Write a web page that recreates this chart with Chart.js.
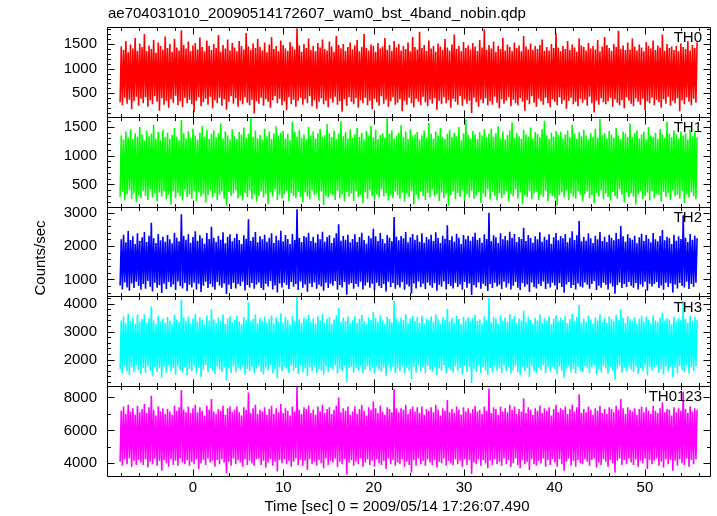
<!DOCTYPE html>
<html>
<head>
<meta charset="utf-8">
<title>ae704031010 wam0 bst 4band</title>
<script src="https://cdn.jsdelivr.net/npm/chart.js@4.4.1/dist/chart.umd.min.js"></script>
<style>
  html, body { margin: 0; padding: 0; background: #fff; }
  #myChart { display: block; }
</style>
</head>
<body>
<canvas id="myChart" width="717" height="516"></canvas>
<script>
/* light curve data, 500 bins from -8.05 s */
const binStart = -8.05;
const binWidth = 0.1279;
const panelNames = ['TH0', 'TH1', 'TH2', 'TH3', 'TH0123'];
const xTickLabels = [0, 10, 20, 30, 40, 50];

const th0 = [
  320, 1450, 260, 1380, 410, 1560, 290, 1330, 370, 1490, 180, 1410, 340, 1620, 430, 1360, 250, 1510, 390, 1440,
  300, 1700, 420, 1350, 230, 1470, 360, 1400, 280, 1580, 440, 1320, 330, 1530, 150, 1460, 400, 1390, 270, 1650,
  350, 1420, 210, 1500, 380, 1340, 310, 1600, 450, 1430, 260, 1370, 340, 1780, 220, 1480, 410, 1410, 300, 1550,
  370, 1360, 280, 1470, 120, 1520, 350, 1390, 420, 1630, 240, 1440, 320, 1350, 390, 1570, 270, 1460, 430, 1380,
  200, 1500, 360, 1420, 300, 1680, 410, 1340, 250, 1480, 380, 1410, 170, 1590, 330, 1370, 440, 1520, 290, 1430,
  400, 1350, 230, 1560, 350, 1460, 280, 1390, 420, 1720, 310, 1450, 260, 1380, 370, 1510, 90, 1420, 340, 1600,
  290, 1440, 410, 1370, 250, 1530, 380, 1330, 330, 1490, 210, 1640, 360, 1400, 440, 1460, 300, 1350, 390, 1570,
  260, 1480, 340, 1410, 160, 1360, 420, 1540, 280, 1450, 370, 1390, 230, 1820, 350, 1470, 410, 1340, 270, 1500,
  380, 1420, 300, 1610, 440, 1380, 240, 1460, 360, 1350, 190, 1520, 330, 1430, 400, 1590, 280, 1400, 350, 1370,
  220, 1550, 390, 1450, 310, 1340, 430, 1660, 270, 1480, 340, 1410, 130, 1500, 380, 1360, 250, 1440, 420, 1530,
  330, 1390, 280, 1470, 400, 1580, 210, 1350, 360, 1440, 300, 1700, 410, 1420, 260, 1370, 350, 1490, 180, 1460,
  390, 1340, 320, 1520, 250, 1410, 440, 1450, 290, 1620, 370, 1380, 230, 1480, 340, 1360, 420, 1560, 270, 1430,
  310, 1500, 380, 1370, 140, 1460, 350, 1400, 270, 1530, 410, 1350, 300, 1640, 220, 1440, 390, 1390, 330, 1750,
  260, 1420, 430, 1480, 320, 1360, 240, 1570, 370, 1410, 290, 1460, 400, 1340, 170, 1510, 350, 1450, 280, 1380,
  420, 1600, 300, 1430, 360, 1370, 210, 1490, 390, 1690, 330, 1400, 270, 1460, 440, 1350, 250, 1540, 380, 1420,
  290, 1470, 350, 1390, 100, 1520, 410, 1450, 320, 1360, 230, 1580, 370, 1430, 300, 1800, 400, 1380, 260, 1480,
  340, 1410, 270, 1550, 430, 1340, 310, 1460, 200, 1400, 380, 1620, 290, 1370, 350, 1490, 420, 1440, 240, 1360,
  370, 1530, 300, 1420, 260, 1470, 400, 1350, 330, 1660, 150, 1450, 360, 1390, 280, 1510, 440, 1380, 310, 1460,
  230, 1400, 390, 1480, 340, 1590, 270, 1360, 410, 1440, 300, 1370, 220, 1500, 380, 1420, 330, 1710, 260, 1430,
  420, 1350, 290, 1460, 360, 1400, 190, 1560, 350, 1380, 410, 1490, 280, 1430, 330, 1340, 240, 1610, 390, 1470,
  310, 1440, 370, 1370, 250, 1520, 430, 1410, 300, 1460, 110, 1390, 350, 1580, 270, 1350, 400, 1450, 320, 1640,
  280, 1480, 340, 1420, 410, 1360, 230, 1500, 380, 1440, 310, 1770, 260, 1400, 360, 1470, 200, 1380, 420, 1530,
  350, 1390, 290, 1610, 240, 1450, 400, 1370, 330, 1490, 270, 1430, 390, 1350, 160, 1540, 340, 1460, 300, 1410,
  410, 1570, 260, 1380, 370, 1470, 320, 1430, 210, 1690, 380, 1360, 290, 1500, 430, 1420, 250, 1450, 350, 1380,
  300, 1460, 400, 1350, 140, 1510, 360, 1440, 280, 1400, 420, 1560, 330, 1370, 260, 1480, 390, 1420, 310, 1530
];
const th1 = [
  280, 1350, 370, 1280, 220, 1420, 330, 1310, 400, 1460, 250, 1290, 350, 1390, 190, 1330, 310, 1500, 260, 1370,
  390, 1260, 300, 1440, 230, 1340, 410, 1380, 270, 1540, 340, 1300, 200, 1410, 360, 1270, 290, 1450, 380, 1320,
  240, 1400, 320, 1290, 150, 1360, 380, 1480, 260, 1330, 350, 1270, 300, 1620, 220, 1390, 410, 1300, 280, 1430,
  330, 1310, 250, 1470, 390, 1350, 210, 1280, 360, 1400, 290, 1520, 340, 1330, 180, 1450, 310, 1290, 400, 1380,
  270, 1440, 350, 1320, 230, 1390, 320, 1560, 380, 1300, 250, 1420, 130, 1350, 370, 1280, 300, 1460, 340, 1340,
  400, 1290, 260, 1410, 310, 1370, 220, 1490, 350, 1310, 280, 1380, 390, 1650, 240, 1330, 330, 1440, 200, 1300,
  300, 1360, 380, 1280, 270, 1470, 340, 1340, 160, 1420, 360, 1290, 290, 1390, 410, 1510, 230, 1350, 320, 1400,
  250, 1430, 330, 1300, 390, 1380, 210, 1270, 350, 1590, 300, 1410, 260, 1330, 370, 1450, 280, 1310, 190, 1370,
  360, 1280, 290, 1500, 240, 1350, 400, 1420, 310, 1300, 340, 1390, 220, 1470, 380, 1330, 140, 1360, 300, 1550,
  270, 1390, 350, 1320, 310, 1440, 230, 1290, 390, 1380, 260, 1600, 330, 1340, 200, 1410, 370, 1300, 290, 1460,
  340, 1310, 210, 1370, 380, 1480, 280, 1330, 320, 1400, 170, 1280, 360, 1430, 250, 1350, 400, 1520, 300, 1320,
  230, 1450, 330, 1290, 270, 1360, 410, 1390, 290, 1310, 350, 1670, 220, 1380, 310, 1440, 260, 1300, 380, 1350,
  310, 1400, 250, 1530, 360, 1320, 200, 1420, 340, 1290, 280, 1460, 390, 1340, 150, 1370, 320, 1410, 240, 1280,
  380, 1350, 300, 1440, 230, 1310, 350, 1570, 270, 1380, 410, 1300, 290, 1420, 330, 1350, 210, 1480, 360, 1330,
  260, 1290, 340, 1380, 120, 1450, 310, 1320, 380, 1400, 240, 1340, 350, 1500, 280, 1270, 400, 1390, 220, 1630,
  330, 1360, 270, 1300, 390, 1430, 250, 1370, 310, 1290, 360, 1410, 180, 1350, 340, 1460, 280, 1320, 410, 1380,
  240, 1470, 370, 1330, 300, 1390, 220, 1510, 350, 1300, 260, 1420, 320, 1280, 390, 1360, 200, 1440, 330, 1580,
  290, 1310, 410, 1400, 250, 1340, 360, 1290, 160, 1450, 310, 1370, 280, 1330, 380, 1490, 240, 1300, 340, 1410,
  370, 1380, 230, 1320, 320, 1460, 280, 1610, 390, 1350, 210, 1290, 350, 1400, 300, 1330, 260, 1430, 140, 1360,
  310, 1420, 360, 1300, 270, 1370, 400, 1440, 230, 1320, 340, 1540, 290, 1380, 250, 1290, 380, 1410, 320, 1340,
  200, 1450, 330, 1350, 380, 1280, 260, 1400, 310, 1330, 170, 1470, 350, 1310, 290, 1640, 400, 1360, 240, 1390,
  340, 1300, 280, 1430, 220, 1360, 370, 1310, 300, 1480, 250, 1350, 410, 1290, 320, 1420, 190, 1380, 360, 1330,
  270, 1560, 350, 1320, 290, 1390, 150, 1440, 330, 1300, 390, 1370, 240, 1410, 300, 1280, 360, 1500, 220, 1350,
  380, 1330, 260, 1400, 340, 1290, 310, 1460, 200, 1360, 370, 1310, 280, 1590, 350, 1380, 230, 1320, 400, 1440,
  290, 1370, 320, 1300, 250, 1420, 390, 1350, 180, 1390, 330, 1280, 270, 1450, 360, 1340, 300, 1410, 240, 1320
];
const th2 = [
  820, 2200, 700, 2340, 910, 2110, 760, 2450, 660, 2180, 880, 2290, 740, 2060, 930, 2380, 800, 2150, 690, 2260,
  860, 2420, 720, 2120, 950, 2310, 780, 2700, 640, 2230, 900, 2090, 750, 2360, 830, 2170, 590, 2280, 870, 2130,
  710, 2330, 920, 2200, 770, 2080, 850, 2400, 680, 2250, 940, 2140, 800, 2950, 730, 2300, 890, 2190, 650, 2350,
  840, 2100, 760, 2270, 900, 2440, 700, 2160, 870, 2320, 620, 2230, 810, 2070, 930, 2390, 740, 2210, 860, 2580,
  780, 2250, 690, 2120, 920, 2300, 820, 2190, 750, 2410, 880, 2080, 560, 2280, 840, 2350, 710, 2140, 900, 2240,
  730, 2370, 860, 2180, 800, 2060, 940, 2320, 670, 2220, 830, 2800, 760, 2150, 890, 2270, 720, 2420, 850, 2110,
  910, 2290, 740, 2200, 680, 2340, 870, 2130, 790, 2250, 950, 2380, 700, 2090, 820, 2310, 610, 2170, 880, 2460,
  760, 2140, 900, 2330, 830, 2210, 710, 2060, 920, 2360, 780, 2180, 860, 3100, 690, 2240, 940, 2120, 750, 2300,
  850, 2260, 630, 2400, 880, 2150, 770, 2280, 910, 2100, 720, 2350, 840, 2200, 790, 2430, 660, 2130, 900, 2270,
  740, 2320, 870, 2090, 810, 2240, 950, 2380, 690, 2650, 830, 2160, 760, 2300, 920, 2190, 540, 2340, 850, 2110,
  890, 2210, 720, 2350, 860, 2120, 780, 2270, 930, 2400, 700, 2180, 820, 2070, 910, 2310, 750, 2230, 870, 2520,
  680, 2290, 900, 2150, 800, 2390, 740, 2210, 860, 2080, 640, 2330, 930, 2250, 770, 2140, 890, 2870, 720, 2280,
  830, 2170, 760, 2300, 920, 2230, 690, 2420, 850, 2110, 790, 2260, 580, 2360, 880, 2190, 730, 2320, 940, 2130,
  770, 2380, 870, 2100, 710, 2270, 910, 2200, 820, 2340, 750, 2150, 890, 2410, 660, 2240, 840, 2090, 780, 2310,
  940, 2220, 700, 2620, 860, 2180, 800, 2290, 730, 2130, 900, 2370, 770, 2250, 850, 2060, 690, 2330, 920, 2200,
  750, 2310, 880, 2160, 530, 2280, 830, 2400, 760, 2190, 910, 2240, 720, 2100, 870, 2350, 800, 2210, 650, 3000,
  860, 2140, 740, 2320, 900, 2260, 790, 2090, 840, 2380, 710, 2200, 930, 2300, 760, 2170, 880, 2430, 700, 2250,
  810, 2360, 920, 2120, 750, 2270, 680, 2210, 890, 2550, 780, 2150, 850, 2330, 620, 2240, 910, 2100, 770, 2290,
  730, 2200, 860, 2410, 800, 2130, 940, 2280, 710, 2190, 870, 2350, 760, 2070, 900, 2260, 820, 2390, 690, 2170,
  890, 2300, 770, 2230, 600, 2360, 850, 2110, 920, 2250, 740, 2440, 830, 2180, 700, 2320, 880, 2750, 790, 2140,
  760, 2270, 910, 2160, 840, 2380, 720, 2230, 860, 2090, 950, 2310, 680, 2200, 810, 2420, 750, 2150, 900, 2280,
  840, 2120, 700, 2340, 880, 2250, 790, 2170, 570, 2400, 830, 2210, 910, 2600, 740, 2290, 860, 2130, 770, 2350,
  920, 2240, 810, 2190, 750, 2310, 890, 2080, 700, 2260, 850, 2370, 780, 2150, 930, 2330, 660, 2220, 870, 2110,
  790, 2390, 860, 2200, 920, 2140, 740, 2300, 820, 2480, 690, 2170, 900, 2280, 770, 2230, 880, 2060, 610, 2340,
  850, 2160, 730, 2290, 890, 2210, 800, 2920, 760, 2250, 930, 2120, 710, 2360, 860, 2190, 780, 2310, 900, 2230
];
const th3 = [
  1650, 3400, 1500, 3550, 1780, 3300, 1580, 3650, 1450, 3380, 1720, 3500, 1550, 3270, 1800, 3600, 1620, 3350, 1480, 3450,
  1700, 3620, 1530, 3320, 1760, 3480, 1600, 3900, 1420, 3400, 1740, 3280, 1560, 3560, 1680, 3360, 1350, 3470, 1750, 3310,
  1510, 3520, 1790, 3390, 1590, 3260, 1690, 3600, 1470, 3430, 1770, 3340, 1620, 4150, 1540, 3490, 1730, 3370, 1440, 3540,
  1660, 3290, 1570, 3460, 1780, 3640, 1500, 3350, 1710, 3510, 1380, 3420, 1640, 3250, 1800, 3580, 1550, 3400, 1700, 3800,
  1600, 3440, 1480, 3310, 1760, 3500, 1650, 3380, 1560, 3610, 1720, 3270, 1250, 3470, 1680, 3550, 1520, 3330, 1750, 3430,
  1540, 3570, 1700, 3370, 1620, 3260, 1790, 3520, 1460, 3410, 1660, 4050, 1580, 3340, 1740, 3460, 1510, 3620, 1690, 3300,
  1770, 3480, 1560, 3390, 1470, 3540, 1710, 3320, 1610, 3450, 1800, 3580, 1500, 3280, 1650, 3510, 1330, 3360, 1730, 3660,
  1580, 3330, 1760, 3530, 1670, 3410, 1520, 3250, 1780, 3560, 1600, 3370, 1700, 4250, 1480, 3440, 1790, 3310, 1550, 3500,
  1690, 3460, 1400, 3600, 1730, 3340, 1590, 3470, 1770, 3290, 1530, 3550, 1660, 3400, 1610, 3630, 1450, 3320, 1750, 3470,
  1560, 3520, 1720, 3280, 1640, 3430, 1800, 3580, 1490, 3850, 1670, 3350, 1580, 3500, 1780, 3380, 1200, 3540, 1690, 3300,
  1740, 3410, 1530, 3550, 1700, 3310, 1600, 3460, 1790, 3600, 1500, 3370, 1650, 3260, 1760, 3510, 1570, 3420, 1720, 3700,
  1480, 3490, 1760, 3340, 1620, 3590, 1550, 3400, 1710, 3270, 1420, 3530, 1790, 3450, 1590, 3330, 1740, 4100, 1520, 3480,
  1670, 3360, 1580, 3500, 1780, 3420, 1490, 3620, 1700, 3300, 1610, 3460, 1300, 3560, 1730, 3380, 1540, 3520, 1800, 3320,
  1590, 3580, 1720, 3290, 1510, 3470, 1770, 3400, 1640, 3540, 1560, 3350, 1740, 3610, 1440, 3430, 1680, 3280, 1600, 3510,
  1800, 3420, 1500, 3820, 1720, 3370, 1620, 3490, 1530, 3320, 1760, 3570, 1590, 3450, 1700, 3260, 1470, 3530, 1780, 3400,
  1560, 3510, 1740, 3350, 1150, 3480, 1660, 3600, 1570, 3380, 1770, 3440, 1520, 3290, 1730, 3550, 1610, 3410, 1460, 4200,
  1700, 3330, 1540, 3520, 1760, 3460, 1600, 3280, 1680, 3580, 1510, 3390, 1790, 3500, 1570, 3360, 1740, 3630, 1490, 3450,
  1630, 3560, 1780, 3310, 1550, 3470, 1450, 3400, 1750, 3750, 1590, 3340, 1700, 3530, 1380, 3430, 1770, 3290, 1580, 3490,
  1520, 3400, 1720, 3610, 1620, 3320, 1800, 3480, 1500, 3380, 1730, 3550, 1570, 3260, 1760, 3460, 1650, 3590, 1470, 3360,
  1750, 3500, 1580, 3420, 1350, 3560, 1690, 3300, 1780, 3450, 1540, 3640, 1660, 3370, 1490, 3520, 1740, 3950, 1600, 3330,
  1560, 3470, 1770, 3350, 1680, 3580, 1510, 3430, 1720, 3280, 1800, 3510, 1460, 3400, 1640, 3620, 1550, 3340, 1760, 3480,
  1690, 3310, 1490, 3540, 1740, 3450, 1600, 3370, 1280, 3600, 1670, 3410, 1780, 3800, 1530, 3490, 1710, 3320, 1570, 3550,
  1780, 3440, 1640, 3390, 1550, 3510, 1750, 3270, 1480, 3460, 1700, 3570, 1590, 3350, 1790, 3530, 1440, 3420, 1730, 3300,
  1600, 3590, 1720, 3400, 1790, 3340, 1530, 3500, 1650, 3680, 1470, 3370, 1760, 3480, 1580, 3430, 1740, 3260, 1380, 3540,
  1710, 3360, 1520, 3490, 1770, 3410, 1620, 4100, 1560, 3450, 1790, 3320, 1500, 3560, 1730, 3390, 1590, 3510, 1760, 3430
];
const th0123 = [
  4100, 7200, 3850, 7450, 4250, 7000, 3950, 7550, 4300, 7150, 3800, 7350, 4150, 6950, 3900, 7500, 4200, 7100, 4050, 7300,
  3900, 7600, 4250, 7050, 3750, 7400, 4100, 8100, 3950, 7250, 4300, 6900, 3850, 7450, 4150, 7150, 3550, 7350, 4200, 7000,
  4000, 7300, 3800, 7150, 4250, 6950, 3900, 7500, 4150, 7200, 3850, 7400, 4300, 8450, 4050, 7250, 3950, 7100, 4200, 7450,
  3850, 7050, 4100, 7350, 3950, 7550, 4250, 7100, 3650, 7400, 4000, 7200, 4200, 6900, 3900, 7500, 4300, 7250, 4050, 7900,
  4150, 7150, 3800, 7000, 4200, 7300, 3950, 7200, 4250, 7500, 4050, 6950, 3400, 7350, 4100, 7450, 3850, 7100, 4300, 7250,
  3950, 7450, 4200, 7100, 4050, 6900, 3800, 7400, 4250, 7250, 3900, 8300, 4150, 7050, 4000, 7350, 3850, 7550, 4250, 7000,
  4300, 7250, 3900, 7150, 4150, 7400, 3750, 6950, 4050, 7300, 4250, 7500, 3850, 7000, 4100, 7350, 3500, 7100, 4200, 7600,
  4000, 7050, 4250, 7350, 3950, 7200, 4150, 6900, 3800, 7450, 4100, 7150, 4300, 8650, 3900, 7250, 4200, 7000, 3850, 7400,
  4150, 7300, 3600, 7500, 4250, 7050, 3950, 7250, 4100, 6950, 3850, 7450, 4200, 7150, 4000, 7550, 3700, 7050, 4300, 7300,
  3900, 7400, 4150, 7000, 4050, 7250, 4300, 7500, 3800, 8000, 4100, 7100, 3950, 7350, 4250, 7200, 3300, 7450, 4050, 6950,
  4200, 7150, 3850, 7450, 4100, 7000, 3950, 7300, 4300, 7550, 3800, 7200, 4050, 6900, 4250, 7400, 3900, 7250, 4150, 7750,
  3800, 7350, 4250, 7050, 4000, 7500, 3900, 7150, 4150, 6950, 3650, 7400, 4300, 7300, 3950, 7100, 4200, 8500, 3850, 7350,
  4050, 7100, 3950, 7350, 4250, 7250, 3800, 7550, 4100, 7000, 3900, 7300, 3450, 7450, 4200, 7150, 3850, 7400, 4300, 7050,
  3950, 7450, 4150, 6950, 3850, 7300, 4250, 7200, 4050, 7400, 3900, 7100, 4200, 7550, 3750, 7250, 4100, 6900, 4000, 7350,
  4300, 7200, 3850, 7850, 4150, 7100, 4000, 7300, 3900, 7050, 4250, 7450, 3950, 7250, 4150, 6950, 3800, 7400, 4250, 7150,
  3900, 7350, 4200, 7050, 3350, 7300, 4050, 7500, 3950, 7150, 4250, 7250, 3850, 7000, 4200, 7450, 4000, 7200, 3700, 8550,
  4150, 7050, 3900, 7400, 4250, 7300, 3950, 6950, 4100, 7450, 3850, 7150, 4300, 7350, 3950, 7100, 4200, 7550, 3800, 7250,
  4000, 7450, 4300, 7000, 3900, 7300, 3700, 7150, 4200, 7950, 3950, 7050, 4100, 7400, 3600, 7250, 4250, 6950, 3950, 7350,
  3850, 7200, 4150, 7500, 4000, 7050, 4300, 7350, 3800, 7200, 4200, 7400, 3900, 6900, 4250, 7300, 4050, 7550, 3800, 7100,
  4250, 7350, 3950, 7250, 3550, 7450, 4100, 7000, 4300, 7300, 3850, 7550, 4150, 7150, 3800, 7400, 4200, 8200, 4000, 7050,
  3950, 7300, 4250, 7100, 4100, 7450, 3850, 7250, 4200, 6950, 4300, 7350, 3750, 7200, 4050, 7500, 3900, 7050, 4250, 7300,
  4100, 7000, 3800, 7400, 4200, 7300, 4000, 7100, 3450, 7500, 4150, 7250, 4300, 7900, 3900, 7350, 4200, 7000, 3950, 7400,
  4300, 7250, 4050, 7150, 3900, 7350, 4250, 6950, 3800, 7300, 4150, 7450, 4000, 7100, 4300, 7400, 3650, 7200, 4200, 7000,
  3950, 7500, 4150, 7200, 4300, 7050, 3850, 7350, 4100, 7700, 3750, 7100, 4250, 7300, 3950, 7250, 4200, 6900, 3550, 7400,
  4150, 7100, 3850, 7350, 4250, 7200, 4000, 8350, 3900, 7300, 4300, 7050, 3800, 7450, 4200, 7150, 3950, 7350, 4250, 7250
];
const seriesList = [th0, th1, th2, th3, th0123];

// panel axis settings
const panelColors = ['#ff0000', '#00ff00', '#0000ff', '#00ffff', '#ff00ff'];
const panelRanges = [[25, 1844], [113, 1677], [491, 3181], [1047, 4261], [3230, 8685]];
const majorTicks = [[500, 1000, 1500], [500, 1000, 1500], [1000, 2000, 3000], [2000, 3000, 4000], [4000, 6000, 8000]];
const majorSteps = [500, 500, 1000, 1000, 2000];
const minorSteps = [100, 100, 200, 200, 1000];

const FONT = '"Liberation Sans", Arial, Helvetica, sans-serif';
const times = seriesList[0].map((v, i) => binStart + i * binWidth);

let datasets = [];
let scales = {
    x: {
        type: 'linear',
        min: -9.5,
        max: 57.2,
        grid: { display: false, drawTicks: false },
        border: { display: false },
        afterBuildTicks: (s) => { s.ticks = xTickLabels.map(v => ({ value: v })); },
        afterFit: (s) => { s.height = 40; },
        ticks: {
            autoSkip: false,
            maxRotation: 0,
            padding: 3,
            color: '#000',
            font: { family: FONT, size: 15 },
            callback: (v) => String(v)
        }
    }
};

seriesList.forEach((vals, p) => {
    let id = 'y' + p;
    datasets.push({
        label: panelNames[p],
        data: vals.map((v, i) => ({ x: times[i], y: v })),
        xAxisID: 'x',
        yAxisID: id,
        borderColor: panelColors[p],
        borderWidth: 1.6,
        borderJoinStyle: 'bevel',
        pointRadius: 0,
        tension: 0,
        fill: false
    });
    scales[id] = {
        type: 'linear',
        position: 'left',
        stack: 'panels',
        stackWeight: 1,
        weight: 5 - p, // top panel first
        min: panelRanges[p][0],
        max: panelRanges[p][1],
        grid: { display: false, drawTicks: false },
        border: { display: false },
        afterBuildTicks: (s) => { s.ticks = majorTicks[p].map(v => ({ value: v })); },
        afterFit: (s) => { s.width = 107; },
        ticks: {
            autoSkip: false,
            padding: 10,
            color: '#000',
            font: { family: FONT, size: 15 },
            callback: (v) => String(v)
        }
    };
});

// frames, inward ticks and the text round the plot
const qdpFrame = {
    id: 'qdpFrame',
    afterDraw(chart) {
        const ctx = chart.ctx;
        const area = chart.chartArea;
        const xs = chart.scales.x;
        ctx.save();
        ctx.strokeStyle = '#000';
        ctx.lineWidth = 1;
        for (let p = 0; p < 5; p++) {
            const ys = chart.scales['y' + p];
            const top = Math.round(ys.top) + 0.5, bot = Math.round(ys.bottom) + 0.5;
            const l = Math.round(area.left) + 0.5, r = Math.round(area.right) + 0.5;
            ctx.beginPath();
            ctx.rect(l, top, r - l, bot - top);
            // y ticks on both sides
            const st = minorSteps[p];
            for (let v = Math.ceil(ys.min / st) * st; v <= ys.max; v += st) {
                const y = Math.round(ys.getPixelForValue(v)) + 0.5;
                const len = v % majorSteps[p] === 0 ? 7 : 3.5;
                ctx.moveTo(l, y); ctx.lineTo(l + len, y);
                ctx.moveTo(r, y); ctx.lineTo(r - len, y);
            }
            // x ticks top and bottom
            for (let t = Math.ceil(xs.min / 2) * 2; t <= xs.max; t += 2) {
                const x = Math.round(xs.getPixelForValue(t)) + 0.5;
                const len = t % 10 === 0 ? 7 : 3.5;
                ctx.moveTo(x, top); ctx.lineTo(x, top + len);
                ctx.moveTo(x, bot); ctx.lineTo(x, bot - len);
            }
            ctx.stroke();
            // panel name
            ctx.fillStyle = '#000';
            ctx.font = '15px ' + FONT;
            ctx.textAlign = 'right';
            ctx.textBaseline = 'middle';
            ctx.fillText(panelNames[p], area.right - 8, ys.top + 11);
        }
        ctx.fillStyle = '#000';
        ctx.font = '15px ' + FONT;
        ctx.textBaseline = 'middle';
        ctx.textAlign = 'left';
        ctx.fillText('ae704031010_20090514172607_wam0_bst_4band_nobin.qdp', area.left + 1, 14);
        ctx.textAlign = 'center';
        ctx.fillText('Time [sec] 0 = 2009/05/14 17:26:07.490', 397, 507);
        ctx.translate(41, 258);
        ctx.rotate(-Math.PI / 2);
        ctx.fillText('Counts/sec', 0, 0);
        ctx.restore();
    }
};

const myChart = new Chart(document.getElementById('myChart'), {
    type: 'line',
    data: { datasets: datasets },
    options: {
        responsive: false,
        animation: false,
        layout: { padding: { top: 27, right: 7, left: 0, bottom: 0 } },
        plugins: {
            legend: { display: false },
            tooltip: { enabled: false }
        },
        scales: scales
    },
    plugins: [qdpFrame]
});
</script>
</body>
</html>
